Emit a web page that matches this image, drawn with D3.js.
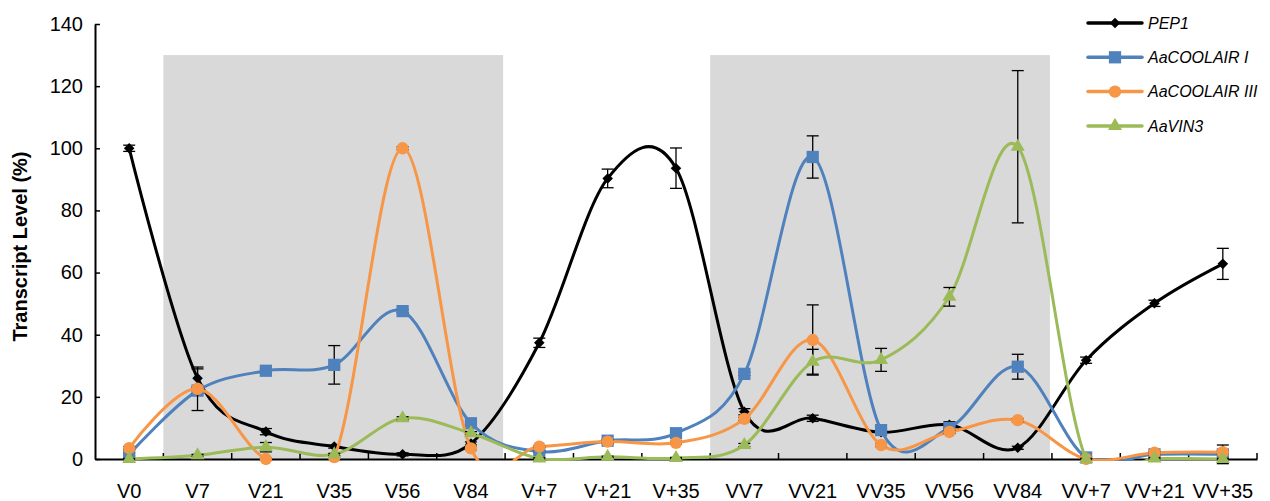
<!DOCTYPE html>
<html>
<head>
<meta charset="utf-8">
<script src="https://cdn.jsdelivr.net/npm/d3@7"></script>
<style>
  body { margin: 0; background: #fff; }
  svg { display: block; font-family: "Liberation Sans", Arial, sans-serif; }
</style>
</head>
<body>
<script>
/* Sampling points along the x axis */
var categories = ["V0", "V7", "V21", "V35", "V56", "V84", "V+7", "V+21", "V+35",
  "VV7", "VV21", "VV35", "VV56", "VV84", "VV+7", "VV+21", "VV+35"];

/* Transcript levels (%) and error bars, one pair of arrays per gene */
var pep1 =       [100, 26, 8.8, 4, 1.5, 5, 37.4, 90.3, 93.6, 15.2, 13.1, 8.6, 11, 3.6, 31.8, 50.1, 62.8];
var pep1Err =    [1, 3, 1, 0.5, 0.5, 0.5, 1.5, 3, 6.5, 1, 1, 0.5, 1, 0.5, 1, 1, 5];
var coolair1 =   [1.5, 22, 28.4, 30.3, 47.6, 11.5, 2.4, 5.9, 8.3, 27.4, 97.2, 9.3, 10, 29.7, 0.5, 1.5, 1.5];
var coolair1Err = [0.5, 1, 0.5, 6.2, 0.5, 0.5, 0.3, 0.5, 0.5, 0.5, 6.8, 0.5, 0.5, 4, 0.3, 0.5, 3];
var coolair3 =   [3.5, 22.6, 0, 0.6, 100, 3.4, 4, 5.6, 5.2, 12.9, 38.3, 4.5, 8.7, 12.5, 0, 2, 2.2];
var coolair3Err = [0.5, 7, 0.3, 0.3, 0.5, 0.5, 0.3, 0.5, 0.5, 0.5, 11.3, 0.5, 0.5, 0.5, 0.2, 0.3, 0.5];
var vin3 =       [0, 1.2, 3.8, 1.5, 13.1, 8.3, 0.2, 0.7, 0.3, 4.5, 31.3, 31.9, 52.2, 100.5, 0, 0.2, 0];
var vin3Err =    [0.2, 0.3, 1.5, 0.3, 0.5, 0.5, 0.2, 0.2, 0.2, 0.5, 4, 3.7, 3, 24.5, 0.2, 0.2, 0.2];

var seriesNames = ["PEP1", "AaCOOLAIR I", "AaCOOLAIR III", "AaVIN3"];
var yTicks = [0, 20, 40, 60, 80, 100, 120, 140];

/* Shaded cold periods: first and last category of each, plus the top value */
var shadeRanges = [["V7", "V84"], ["VV7", "VV84"]];
var shadeTop = 130;

var width = 1270, height = 501;
var plotLeft = 95, plotRight = 1257, plotTop = 24, plotBottom = 459;

var series = [
  { name: seriesNames[0], values: pep1, err: pep1Err, color: "#000000", symbol: "diamond", size: 56 },
  { name: seriesNames[1], values: coolair1, err: coolair1Err, color: "#4F81BD", symbol: "square", size: 150 },
  { name: seriesNames[2], values: coolair3, err: coolair3Err, color: "#F79646", symbol: "circle", size: 120 },
  { name: seriesNames[3], values: vin3, err: vin3Err, color: "#9BBB59", symbol: "triangle", size: 85 }
];

var svg = d3.select("body").append("svg")
    .attr("width", width)
    .attr("height", height);

/* lines are clipped to the plot area, markers are not */
svg.append("clipPath")
    .attr("id", "plot-clip")
  .append("rect")
    .attr("x", plotLeft)
    .attr("y", plotTop)
    .attr("width", plotRight - plotLeft)
    .attr("height", plotBottom - plotTop + 2);

var x = d3.scaleBand().domain(categories).range([plotLeft, plotRight]).padding(0);
var y = d3.scaleLinear().domain([0, 140]).range([plotBottom, plotTop]);
var cx = function(c) { return x(c) + x.bandwidth() / 2; };

/* Gray boxes behind everything */
svg.selectAll(".shade")
    .data(shadeRanges)
  .enter().append("rect")
    .attr("class", "shade")
    .attr("x", function(d) { return x(d[0]); })
    .attr("width", function(d) { return x(d[1]) + x.step() - x(d[0]) - 2; })
    .attr("y", y(shadeTop))
    .attr("height", y(0) - y(shadeTop))
    .attr("fill", "#D9D9D9");

/* Y axis with inward ticks */
var yAxis = svg.append("g")
    .attr("transform", "translate(" + plotLeft + ",0)")
    .call(d3.axisLeft(y).tickValues(yTicks).tickSizeInner(-5).tickSizeOuter(0).tickPadding(12));
yAxis.select(".domain").attr("stroke", "#000").attr("stroke-width", 2);
yAxis.selectAll(".tick line").attr("stroke", "#000").attr("stroke-width", 1.5);
yAxis.selectAll("text").attr("font-size", 20).attr("fill", "#000");

/* X axis: labels centred in each category, ticks on the boundaries */
var xAxis = svg.append("g")
    .attr("transform", "translate(0," + plotBottom + ")")
    .call(d3.axisBottom(x).tickSize(0).tickSizeOuter(0).tickPadding(25));
xAxis.select(".domain").attr("stroke", "#000").attr("stroke-width", 2);
xAxis.selectAll("text").attr("font-size", 20).attr("fill", "#000");

xAxis.selectAll(".bound")
    .data(categories)
  .enter().append("line")
    .attr("class", "bound")
    .attr("x1", function(d) { return x(d) + x.step(); })
    .attr("x2", function(d) { return x(d) + x.step(); })
    .attr("y1", 0)
    .attr("y2", -6)
    .attr("stroke", "#000")
    .attr("stroke-width", 1.5);

/* Y axis title */
svg.append("text")
    .attr("transform", "translate(27," + ((plotTop + plotBottom) / 2 + 5) + ") rotate(-90)")
    .attr("text-anchor", "middle")
    .attr("font-size", 20)
    .attr("font-weight", "bold")
    .text("Transcript Level (%)");

var symbolTypes = {
  diamond: d3.symbolSquare, square: d3.symbolSquare,
  circle: d3.symbolCircle, triangle: d3.symbolTriangle
};

function symbolPath(s) {
  return d3.symbol().type(symbolTypes[s.symbol]).size(s.size)();
}

var line = d3.line()
    .x(function(d, i) { return cx(categories[i]); })
    .y(function(d) { return y(d); })
    .curve(d3.curveCatmullRom.alpha(0));

series.forEach(function(s) {
  var g = svg.append("g").attr("class", "series");

  g.append("path")
      .attr("d", line(s.values))
      .attr("clip-path", "url(#plot-clip)")
      .attr("fill", "none")
      .attr("stroke", s.color)
      .attr("stroke-width", 3);

  /* error bars */
  var eb = g.selectAll(".err")
      .data(s.values)
    .enter().append("g")
      .attr("class", "err")
      .attr("transform", function(d, i) { return "translate(" + cx(categories[i]) + ",0)"; });
  eb.append("line")
      .attr("y1", function(d, i) { return y(d + s.err[i]); })
      .attr("y2", function(d, i) { return y(d - s.err[i]); })
      .attr("stroke", "#000").attr("stroke-width", 1.3);
  [1, -1].forEach(function(sign) {
    eb.append("line")
        .attr("x1", -6).attr("x2", 6)
        .attr("y1", function(d, i) { return y(d + sign * s.err[i]); })
        .attr("y2", function(d, i) { return y(d + sign * s.err[i]); })
        .attr("stroke", "#000").attr("stroke-width", 1.3);
  });

  /* markers */
  g.selectAll(".marker")
      .data(s.values)
    .enter().append("path")
      .attr("class", "marker")
      .attr("d", symbolPath(s))
      .attr("transform", function(d, i) {
        return "translate(" + cx(categories[i]) + "," + y(d) + ")" +
          (s.symbol === "diamond" ? " rotate(45)" : "");
      })
      .attr("fill", s.color);
});

/* Legend */
var legend = svg.selectAll(".legend")
    .data(series)
  .enter().append("g")
    .attr("class", "legend")
    .attr("transform", function(d, i) { return "translate(1088," + (23 + i * 34.3) + ")"; });

legend.append("line")
    .attr("x1", 0).attr("x2", 54)
    .attr("stroke", function(d) { return d.color; })
    .attr("stroke-width", 3.5)
    .attr("stroke-linecap", "round");

legend.append("path")
    .attr("d", function(d) { return symbolPath(d); })
    .attr("transform", function(d) { return "translate(27,0)" + (d.symbol === "diamond" ? " rotate(45)" : ""); })
    .attr("fill", function(d) { return d.color; });

legend.append("text")
    .attr("x", 60)
    .attr("dy", "0.35em")
    .attr("font-size", 16)
    .attr("font-style", "italic")
    .text(function(d) { return d.name; });
</script>
</body>
</html>
